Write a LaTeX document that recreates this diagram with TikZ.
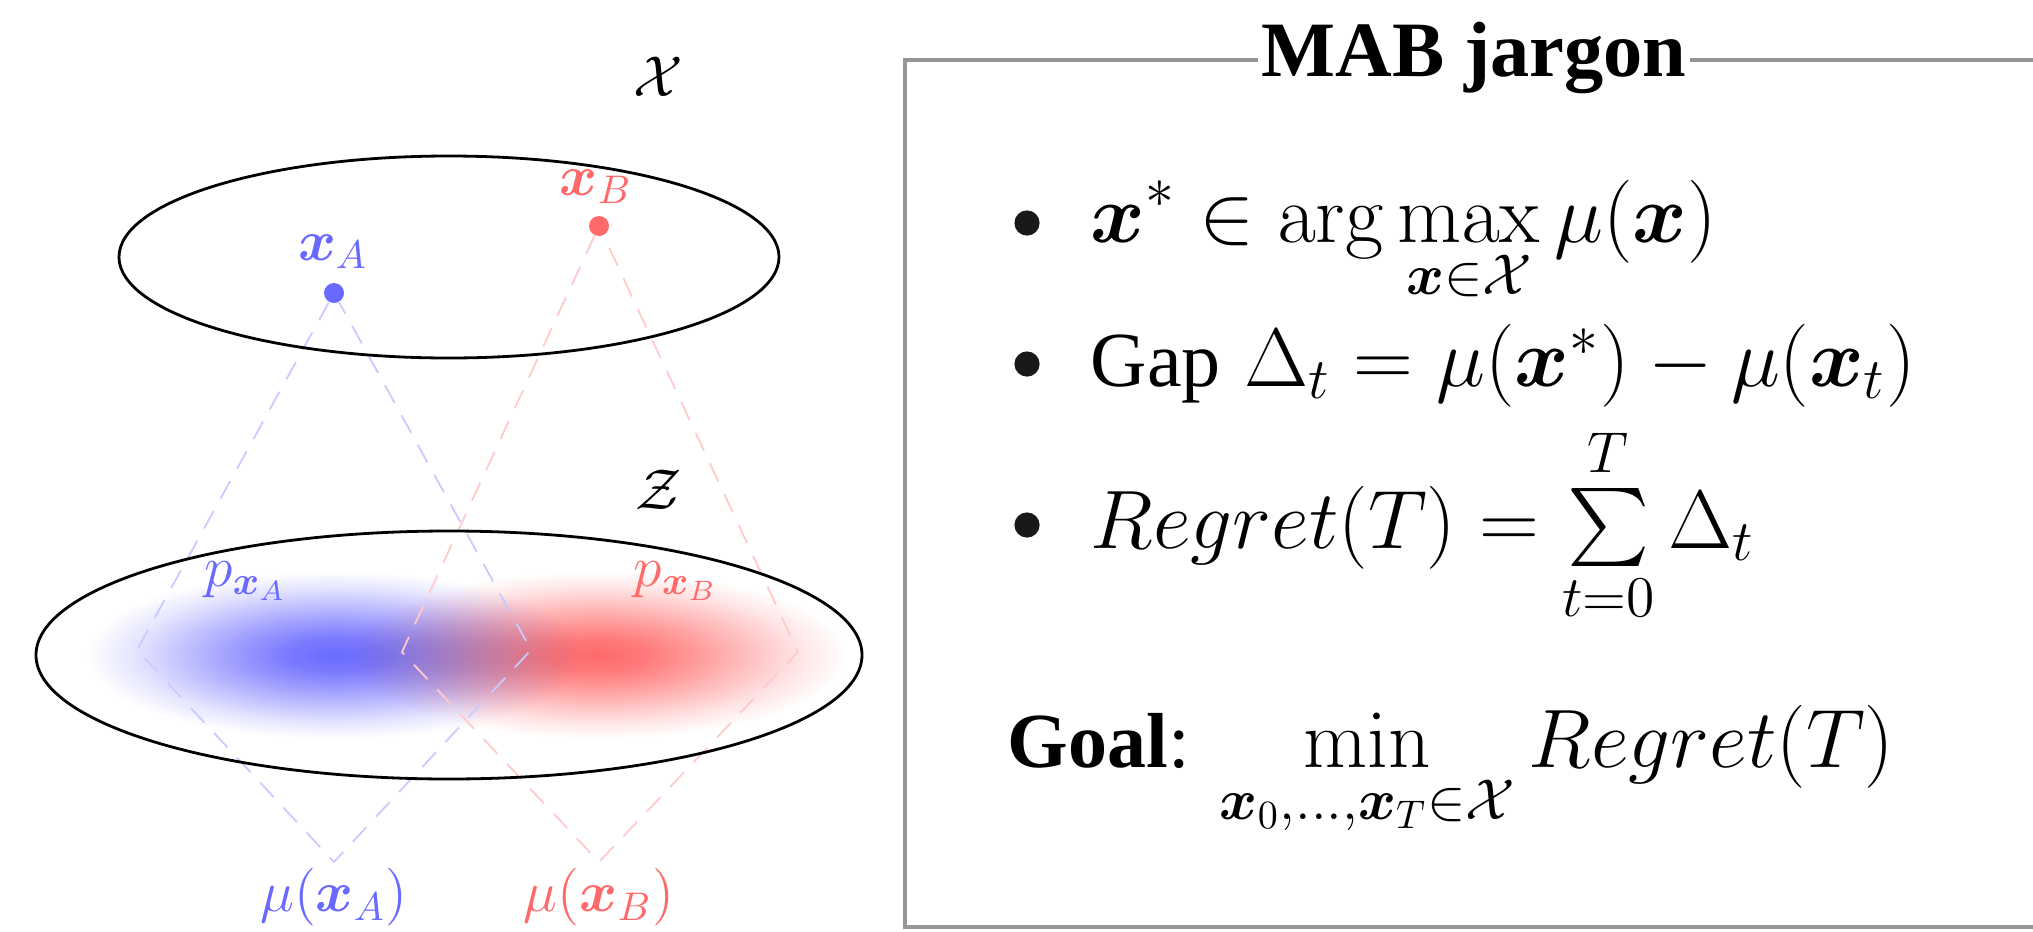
\documentclass[tikz,border=0pt]{standalone}
\usepackage{amsmath,amssymb,bm}
\usepackage[no-math]{fontspec}
\newfontfamily\titlefont{Liberation Serif}
\usetikzlibrary{positioning}
\definecolor{armA}{RGB}{105,105,255}
\definecolor{armB}{RGB}{255,105,105}
\definecolor{framegray}{RGB}{150,150,150}
% gaussian-looking densities
\pgfdeclareradialshading{gaussA}{\pgfpointorigin}{color(0bp)=(armA); color(5bp)=(armA!88); color(10bp)=(armA!66); color(15bp)=(armA!42); color(20bp)=(armA!18); color(25bp)=(white); color(50bp)=(white)}
\pgfdeclareradialshading{gaussB}{\pgfpointorigin}{color(0bp)=(armB); color(5bp)=(armB!88); color(10bp)=(armB!66); color(15bp)=(armB!42); color(20bp)=(armB!18); color(25bp)=(white); color(50bp)=(white)}
\newcommand{\bx}{\bm{x}}
\tikzset{
  setshape/.style={draw, line width=0.7pt},
  armdot/.style={circle, fill, inner sep=0pt, minimum size=5pt},
  lbl/.style={font=\fontsize{14.5}{17}\selectfont, inner sep=0pt},
  proj/.style={dash pattern=on 5pt off 3.5pt, line width=0.45pt},
  blob/.style={blend mode=multiply},
  jargonframe/.style={draw=framegray, line width=1.2pt},
  boxtitle/.style={fill=white, font=\fontsize{19.6}{22}\selectfont\titlefont\bfseries, inner xsep=1pt, inner ysep=3pt, anchor=base},
  jargonline/.style={font=\fontsize{19.5}{23}\selectfont, anchor=base west, inner sep=0pt},
  bulletdot/.style={circle, fill=black!90, inner sep=0pt, minimum size=6.3pt}
}
\begin{document}
\begin{tikzpicture}[x=0.25pt,y=-0.25pt]
\useasboundingbox (0,0) rectangle (2033,931);
% densities in the latent space
\shade[shading=gaussA, blob] (335,655) ellipse [x radius=250, y radius=84];
\shade[shading=gaussB, blob] (598,655) ellipse [x radius=250, y radius=84];
% arms
\node[armdot, armA] (xA) at (334,293) {};
\node[armdot, armB] (xB) at (599,226) {};
\coordinate (lA) at (137,650);
\coordinate (rA) at (531,650);
\coordinate (mA) at (334,862);
\coordinate (lB) at (402,652);
\coordinate (rB) at (798,652);
\coordinate (mB) at (599,862);
\draw[proj, armA!35] (xA) -- (lA) -- (mA) -- (rA) -- (xA);
\draw[proj, armB!35] (xB) -- (lB) -- (mB) -- (rB) -- (xB);
% spaces
\draw[setshape] (449,257) ellipse [x radius=330, y radius=101];
\draw[setshape] (449,655) ellipse [x radius=413, y radius=124];
\node[lbl] (Xlbl) at (658,77) {$\mathcal{X}$};
\node[lbl] (Zlbl) at (659,490) {$\mathcal{Z}$};
\node[lbl, text=armA, anchor=base] (xAlbl) at (333,260) {$\bx_A$};
\node[lbl, text=armB, anchor=base] (xBlbl) at (596,195) {$\bx_B$};
\node[lbl, text=armA] (pA) at (246,581) {$p_{\bx_A}$};
\node[lbl, text=armB] (pB) at (676,581) {$p_{\bx_B}$};
\node[lbl, text=armA] (muA) at (334,897) {$\mu(\bx_A)$};
\node[lbl, text=armB] (muB) at (599,897) {$\mu(\bx_B)$};
% MAB jargon box
\draw[jargonframe] (905,60) rectangle (2045,927);
\node[boxtitle] (title) at (1474,77) {MAB jargon};
\foreach \y in {223,364,525}
  \node[bulletdot] (b\y) at (1027,\y) {};
\node[jargonline] (optarm) at (1090,242) {$\displaystyle \bx^* \in \arg\max_{\bx\in\mathcal{X}} \mu(\bx)$};
\node[jargonline] (gap) at (1090,386) {{\titlefont Gap} $\Delta_t = \mu(\bx^*) - \mu(\bx_t)$};
\node[jargonline] (regret) at (1090,548) {$Regret(T) = \sum\limits_{t=0}^{T} \Delta_t$};
\node[jargonline] (goal) at (1007,767) {{\titlefont\bfseries Goal}{\titlefont:}\hspace{7.5pt}$\displaystyle \min_{\bx_0,\dots,\bx_T\in\mathcal{X}} Regret(T)$};
\end{tikzpicture}
\end{document}
